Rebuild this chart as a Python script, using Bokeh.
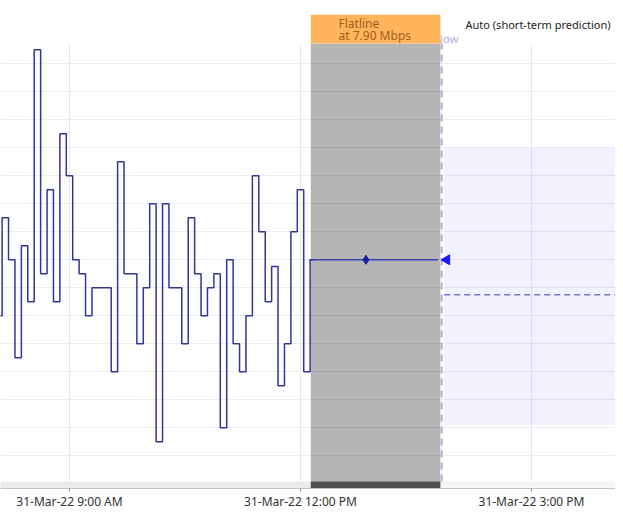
from bokeh.plotting import figure
from bokeh.models import FixedTicker, Range1d
from bokeh.core.properties import value
from bokeh.embed import file_html
from bokeh.resources import INLINE
import math

# ---------------- data ----------------
times = ["08:05", "08:10", "08:15", "08:20", "08:25", "08:30", "08:35", "08:40",
         "08:45", "08:50", "08:55", "09:00", "09:05", "09:10", "09:15", "09:20",
         "09:25", "09:30", "09:35", "09:40", "09:45", "09:50", "09:55", "10:00",
         "10:05", "10:10", "10:15", "10:20", "10:25", "10:30", "10:35", "10:40",
         "10:45", "10:50", "10:55", "11:00", "11:05", "11:10", "11:15", "11:20",
         "11:25", "11:30", "11:35", "11:40", "11:45", "11:50", "11:55", "12:00",
         "12:05", "12:10"]
mbps = [6.90, 8.65, 7.90, 6.15, 8.15, 7.15, 11.65, 7.65,
        9.15, 7.15, 10.15, 9.40, 7.90, 7.65, 6.90, 7.40,
        7.40, 7.40, 5.90, 9.65, 7.65, 7.65, 6.40, 7.40,
        8.90, 4.65, 8.90, 7.40, 7.40, 6.40, 8.65, 7.65,
        6.90, 7.40, 7.65, 4.90, 7.90, 6.40, 5.90, 6.90,
        9.40, 8.40, 7.15, 7.78, 5.65, 6.40, 8.40, 9.15,
        5.90, 7.90]

flat_value = 7.90
flat_start, flat_end = "12:07", "13:47"
flat_marker_time = "12:51"
shade_start, shade_end = "12:08", "13:49"
now_time = "13:50"
last_marker_time = "13:54"
forecast_start = "13:52"
forecast_value = 7.275
forecast_low, forecast_high = 4.95, 9.90

tick_times = ["09:00", "12:00", "15:00"]
tick_labels = ["31-Mar-22 9:00 AM", "31-Mar-22 12:00 PM", "31-Mar-22 3:00 PM"]
flat_label = ["Flatline", "at 7.90 Mbps"]
forecast_label = "Auto (short-term prediction)"
now_label = "Now"


def mins(t):
    h, m = t.split(":")
    return int(h) * 60 + int(m)


# ---------------- layout helpers (screen px -> data) ----------------
PX_PER_MIN = 231.0 / 180.0


def xpx(px):
    return 540 + (px - 69) / PX_PER_MIN


def ypx(py):
    return 7.9 + 0.5 * (259.3 - py) / 28.0


FONT = "Noto Sans"
TOP = 14
BOTTOM = 488
x0, x1 = xpx(0), xpx(615)
y0, y1 = ypx(BOTTOM), ypx(TOP)
PLOT_TOP = 43
STRIP_TOP = 481

p = figure(frame_width=615, frame_height=BOTTOM - TOP,
           x_range=Range1d(x0, x1), y_range=Range1d(y0, y1),
           output_backend="svg", toolbar_location=None, y_axis_location=None,
           min_border_left=0, min_border_right=0, min_border_top=TOP,
           min_border_bottom=0, outline_line_color=None,
           background_fill_color="white", border_fill_color="white")

tick_mins = [mins(t) for t in tick_times]
p.xgrid.ticker = FixedTicker(ticks=tick_mins)
p.ygrid.ticker = FixedTicker(ticks=[7.9 + 0.5 * k for k in range(-8, 8)])
p.xgrid.grid_line_color = "#e6e6ec"
p.ygrid.grid_line_color = "#ececf0"

ax = p.xaxis[0]
ax.ticker = FixedTicker(ticks=tick_mins)
ax.major_label_overrides = dict(zip(tick_mins, tick_labels))
ax.axis_line_color = "#c4c4c4"
ax.major_tick_line_color = "#888888"
ax.major_tick_in = 0
ax.major_tick_out = 3
ax.minor_tick_line_color = None
ax.major_label_text_font = FONT
ax.major_label_text_font_size = "12px"
ax.major_label_text_color = "#333333"
ax.major_label_standoff = 1

# white area above plot region
p.quad(left=[x0], right=[x1], bottom=[ypx(PLOT_TOP)], top=[y1],
       fill_color="white", line_color=None)

# navigator strip
p.quad(left=[x0], right=[xpx(440)], bottom=[y0], top=[ypx(STRIP_TOP)],
       fill_color="#ebebeb", line_color=None)
p.quad(left=[xpx(440)], right=[x1], bottom=[y0], top=[ypx(STRIP_TOP)],
       fill_color="#f6f6f6", line_color=None)
p.quad(left=[mins(shade_start)], right=[mins(shade_end)], bottom=[y0], top=[ypx(STRIP_TOP)],
       fill_color="#4f4f4f", line_color=None)

# forecast band
p.quad(left=[mins(forecast_start)], right=[x1], bottom=[forecast_low], top=[forecast_high],
       fill_color="#6464ff", fill_alpha=0.09, line_color=None)

# flatline shaded region
p.quad(left=[mins(shade_start)], right=[mins(shade_end)], bottom=[ypx(STRIP_TOP)],
       top=[ypx(PLOT_TOP)], fill_color="black", fill_alpha=0.29, line_color=None)

# measured series
p.step(x=[mins(t) for t in times], y=mbps, mode="center",
       line_color="#34349c", line_width=1.5)

# flatline
p.line(x=[mins(flat_start), mins(flat_end)], y=[flat_value, flat_value],
       line_color="#4040b0", line_width=1.5)
p.scatter(x=[mins(flat_marker_time)], y=[flat_value], marker="diamond", size=9,
          fill_color="#1c1ca8", line_color="#1c1ca8")

# now line
p.segment(x0=[mins(now_time)], y0=[ypx(STRIP_TOP)], x1=[mins(now_time)], y1=[ypx(PLOT_TOP)],
          line_color="#aab0d8", line_width=2, line_dash="7 5")

p.scatter(x=[mins(last_marker_time)], y=[flat_value], marker="triangle", size=10,
          angle=math.pi / 2, fill_color="#1a1af0", line_color="#1a1af0")

# forecast line
p.line(x=[mins(forecast_start), x1], y=[forecast_value, forecast_value],
       line_color="#7474c4", line_width=1.5, line_dash="6 4")

# now label (partly hidden)
p.text(x=[xpx(458)], y=[ypx(38)], text=[now_label], text_font=value(FONT),
       text_font_size="11.5px", text_color="#aab4dc", text_align="right",
       text_baseline="middle")

# flatline label box
p.quad(left=[mins(shade_start)], right=[mins(shade_end)], bottom=[ypx(PLOT_TOP)],
       top=[ypx(TOP)], fill_color="#ffb55c", line_color=None)
p.text(x=[xpx(338), xpx(338)], y=[ypx(23), ypx(35)], text=flat_label,
       text_font=value(FONT), text_font_size="12px", text_color="#a0601a",
       text_align="left", text_baseline="middle")

p.text(x=[xpx(465)], y=[ypx(24)], text=[forecast_label], text_font=value(FONT),
       text_font_size="11px", text_color="#222222", text_align="left",
       text_baseline="middle")

open("out.html", "w").write(file_html(p, INLINE))
